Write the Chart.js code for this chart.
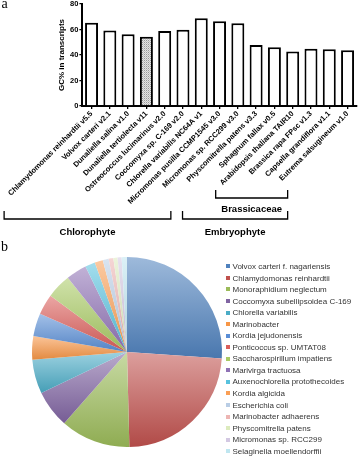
<!DOCTYPE html>
<html><head><meta charset="utf-8">
<script src="https://cdn.jsdelivr.net/npm/chart.js@4"></script>
<style>
html,body{margin:0;padding:0;background:#fff;}
body{width:358px;height:457px;position:relative;overflow:hidden;}
#bar{position:absolute;left:0;top:0;}
#pie{position:absolute;left:0;top:240px;}
.panel{position:absolute;font-family:"Liberation Serif","DejaVu Serif",serif;font-size:14px;line-height:14px;color:#000;z-index:2;}
#legend{position:absolute;left:226px;top:261px;font-family:"Liberation Sans",Arial,sans-serif;font-size:8px;color:#333;}
.li{height:11.56px;line-height:11.56px;white-space:nowrap;}
.sw{display:inline-block;width:4px;height:4px;margin-right:2.5px;vertical-align:middle;position:relative;top:-0.5px;}
</style></head>
<body>
<canvas id="bar" width="358" height="240"></canvas>
<canvas id="pie" width="358" height="217"></canvas>
<div class="panel" style="left:1.5px;top:-3.5px;">a</div>
<div class="panel" style="left:1px;top:240px;">b</div>
<div id="legend"></div>
<script>
// ---------- Panel a data ----------
const species = [
  "Chlamydomonas reinhardtii v5.5","Volvox carteri v2.1","Dunaliella salina v1.0",
  "Dunaliella tertiolecta v11","Ostreococcus lucimarinus v2.0","Coccomyxa sp. C-169 v2.0",
  "Chlorella variabilis NC64A v1","Micromonas pusilla CCMP1545 v3.0","Micromonas sp. RCC299 v3.0",
  "Physcomitrella patens v3.3","Sphagnum fallax v0.5","Arabidopsis thaliana TAIR10",
  "Brassica rapa FPsc v1.3","Capsella grandiflora v1.1","Eutrema salsugineum v1.0"
];
const gcPercent = [65.2, 59.3, 56.2, 54.4, 58.8, 59.8, 68.9, 66.5, 65.0, 47.9, 46.1, 42.7, 45.0, 44.5, 43.7];
const highlighted = [3];
const yMax = 80, yStep = 20;
const groupText = ["Brassicaceae", "Chlorophyte", "Embryophyte"];
const groupFrom = [11, 0, 9];
const groupTo   = [14, 8, 14];
const groupLevel = [0, 1, 1];

// ---------- Panel b data ----------
const taxa = [
  "Volvox carteri f. nagariensis","Chlamydomonas reinhardtii","Monoraphidium neglectum",
  "Coccomyxa subellipsoidea C-169","Chlorella variabilis","Marinobacter","Kordia jejudonensis",
  "Ponticoccus sp. UMTAT08","Saccharospirillum impatiens","Marivirga tractuosa",
  "Auxenochlorella protothecoides","Kordia algicida","Escherichia coli","Marinobacter adhaerens",
  "Physcomitrella patens","Micromonas sp. RCC299","Selaginella moellendorffii"
];
const hitShare = [26.1, 23.5, 11.9, 6.4, 5.8, 4.0, 3.9, 3.5, 4.2, 3.5, 1.7, 1.4, 1.0, 0.8, 0.7, 0.7, 0.9];
const sliceColors = [
  "#4F81BD","#C0504D","#9BBB59","#8064A2","#4BACC6","#F79646",
  "#5A8ED6","#DA5E5A","#A9CA64","#8F72B5","#57C2DE","#FA9F55",
  "#B9CDE5","#EDB5B3","#DCEBBD","#D3C8E2","#BFE6F0"
];

const FONT = "'Liberation Sans', Arial, sans-serif";
Chart.defaults.font.family = FONT;
Chart.defaults.color = "#000";

// dotted fill for the highlighted bar
const pc = document.createElement('canvas'); pc.width = 2; pc.height = 2;
const pcx = pc.getContext('2d');
pcx.fillStyle = '#e4e4e4'; pcx.fillRect(0,0,2,2);
pcx.fillStyle = '#9a9a9a'; pcx.fillRect(0,0,1,1);
pcx.fillStyle = '#c4c4c4'; pcx.fillRect(1,1,1,1);
const dotPattern = pcx.createPattern(pc, 'repeat');

const barFill = species.map((s, i) => highlighted.includes(i) ? dotPattern : '#fff');

const bracketPlugin = {
  id: 'brackets',
  afterDraw(chart) {
    const ctx = chart.ctx, xs = chart.scales.x;
    ctx.save();
    ctx.font = "bold 7.5px " + FONT;
    const leftEnd = i => xs.getPixelForTick(i) - ctx.measureText(species[i]).width * Math.SQRT1_2 - 2;
    const lv = [{top:190, bot:198, txt:209}, {top:211, bot:219, txt:232}];
    ctx.strokeStyle = '#000'; ctx.lineWidth = 1.3; ctx.fillStyle = '#000';
    groupText.forEach((t, g) => {
      const L = lv[groupLevel[g]];
      const x0 = leftEnd(groupFrom[g]) - 3.5, x1 = leftEnd(groupTo[g]) + 9;
      ctx.beginPath();
      ctx.moveTo(x0, L.top); ctx.lineTo(x0, L.bot); ctx.lineTo(x1, L.bot); ctx.lineTo(x1, L.top);
      ctx.stroke();
      ctx.font = "bold 9.5px " + FONT;
      ctx.textAlign = 'center'; ctx.textBaseline = 'middle';
      ctx.fillText(t, (x0 + x1) / 2, L.txt);
      ctx.font = "bold 7.5px " + FONT;
    });
    ctx.restore();
  }
};

new Chart(document.getElementById('bar'), {
  type: 'bar',
  data: { labels: species, datasets: [{
    data: gcPercent, backgroundColor: barFill, borderColor: '#000', borderWidth: 2,
    barPercentage: 0.71, categoryPercentage: 1
  }]},
  options: {
    responsive: false, animation: false,
    layout: { padding: { top: 3, right: 1.3, bottom: 34, left: 0 } },
    plugins: { legend: { display: false }, tooltip: { enabled: false } },
    scales: {
      x: {
        grid: { offset: false, drawOnChartArea: false, drawTicks: true, tickLength: 3, color: '#000', lineWidth: 1.3 },
        border: { color: '#000', width: 2 },
        ticks: { autoSkip: false, minRotation: 45, maxRotation: 45, padding: 1,
                 font: { size: 7.5, weight: 'bold', lineHeight: 1 }, color: '#000' },
        afterFit: s => { s.height = 100; }
      },
      y: {
        min: 0, max: yMax,
        grid: { drawOnChartArea: false, drawTicks: true, tickLength: 3, color: '#000', lineWidth: 1.3 },
        border: { color: '#000', width: 2 },
        ticks: { stepSize: yStep, padding: 1, font: { size: 7.5, weight: 'bold', lineHeight: 0.8 }, color: '#000' },
        title: { display: true, text: 'GC% in transcripts', color: '#000',
                 font: { size: 8, weight: 'bold', lineHeight: 1.2 }, padding: { top: 57, bottom: 0 } },
        afterFit: s => { s.width = 82.4; }
      }
    }
  },
  plugins: [bracketPlugin]
});

// ---------- pie ----------
function mix(hex, t, target) {
  const n = parseInt(hex.slice(1), 16);
  const c = [(n >> 16) & 255, (n >> 8) & 255, n & 255].map(v => Math.round(v + (target - v) * t));
  return 'rgb(' + c.join(',') + ')';
}
const totalShare = hitShare.reduce((a, b) => a + b, 0);
function sliceFill(c) {
  const i = c.dataIndex, chart = c.chart, area = chart.chartArea;
  if (!area || i === undefined) return sliceColors[i] || '#ccc';
  const cx = (area.left + area.right) / 2, cy = (area.top + area.bottom) / 2;
  const r = Math.min(area.right - area.left, area.bottom - area.top) / 2;
  let before = 0; for (let k = 0; k < i; k++) before += hitShare[k];
  const a0 = before / totalShare * 2 * Math.PI, a1 = (before + hitShare[i]) / totalShare * 2 * Math.PI;
  let ymin = cy, ymax = cy;
  for (let s = 0; s <= 40; s++) {
    const a = a0 + (a1 - a0) * s / 40;
    const y = cy - r * Math.cos(a);
    ymin = Math.min(ymin, y); ymax = Math.max(ymax, y);
  }
  if (ymax - ymin < 1) ymax = ymin + 1;
  const g = chart.ctx.createLinearGradient(0, ymin, 0, ymax);
  g.addColorStop(0, mix(sliceColors[i], 0.45, 255));
  g.addColorStop(1, mix(sliceColors[i], 0.08, 0));
  return g;
}

new Chart(document.getElementById('pie'), {
  type: 'pie',
  data: { labels: taxa, datasets: [{ data: hitShare, backgroundColor: sliceFill, borderWidth: 0 }] },
  options: {
    responsive: false, animation: false,
    layout: { padding: { left: 32, right: 136, top: 17, bottom: 10 } },
    plugins: { legend: { display: false }, tooltip: { enabled: false } }
  }
});

const lg = document.getElementById('legend');
taxa.forEach((t, i) => {
  const d = document.createElement('div'); d.className = 'li';
  const sw = document.createElement('span'); sw.className = 'sw'; sw.style.background = sliceColors[i];
  d.appendChild(sw); d.appendChild(document.createTextNode(t));
  lg.appendChild(d);
});
</script>
</body></html>
